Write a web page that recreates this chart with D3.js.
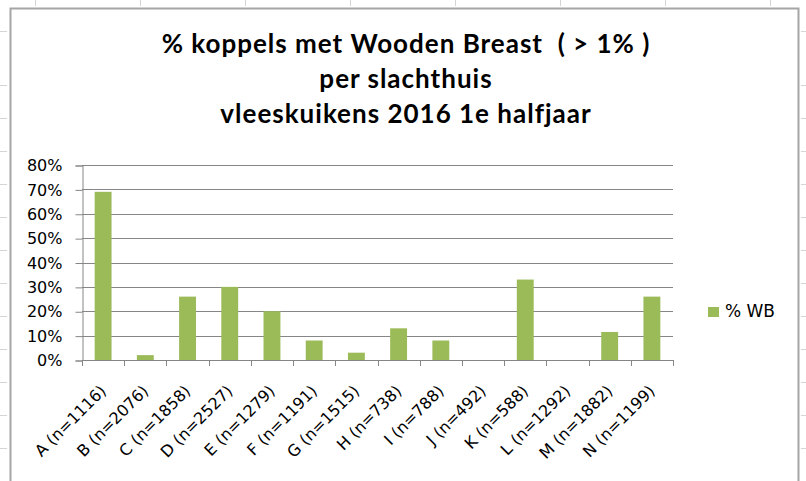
<!DOCTYPE html>
<html>
<head>
<meta charset="utf-8">
<script src="https://cdn.jsdelivr.net/npm/d3@7"></script>
<style>
  body { margin: 0; background: #fff; }
  svg { display: block; }
</style>
</head>
<body>
<div id="chart"></div>
<script>
// data
var categories = ["A (n=1116)", "B (n=2076)", "C (n=1858)", "D (n=2527)", "E (n=1279)",
    "F (n=1191)", "G (n=1515)", "H (n=738)", "I (n=788)", "J (n=492)",
    "K (n=588)", "L (n=1292)", "M (n=1882)", "N (n=1199)"];
var wbValues = [0.69, 0.02, 0.26, 0.30, 0.20, 0.08, 0.03, 0.13, 0.08, 0, 0.33, 0, 0.115, 0.26];
var yTicks = [0, 0.1, 0.2, 0.3, 0.4, 0.5, 0.6, 0.7, 0.8];
var titleLines = ["% koppels met Wooden Breast  ( > 1% )", "per slachthuis", "vleeskuikens 2016 1e halfjaar"];
var seriesName = "% WB";

var W = 806, H = 481;
var green = "#9bbb59", gridGrey = "#868686";
var labelFont = "'DejaVu Sans', sans-serif";

var svg = d3.select("#chart").append("svg")
    .attr("width", W)
    .attr("height", H);

// spreadsheet cells peeking out round the chart object
var sheet = svg.append("g").attr("stroke", "#d4d4d4").attr("stroke-width", 1);
d3.range(0, 13).forEach(function (i) {
    var y = i == 0 ? 31 : 85 + i * 33 - 33;
    sheet.append("line").attr("x1", 0).attr("x2", 7).attr("y1", y + 0.5).attr("y2", y + 0.5);
    sheet.append("line").attr("x1", 801).attr("x2", W).attr("y1", y + 0.5).attr("y2", y + 0.5);
});
d3.range(0, 8).forEach(function (i) {
    var x = 35 + i * 105;
    sheet.append("line").attr("x1", x + 0.5).attr("x2", x + 0.5).attr("y1", 0).attr("y2", 6);
});

// chart object frame
svg.append("rect")
    .attr("x", 10.5).attr("y", 8.5)
    .attr("width", 788).attr("height", H + 20)
    .attr("fill", "#fff")
    .attr("stroke", "#a5a5a5")
    .attr("stroke-width", 2);

// title
var title = svg.append("text")
    .attr("text-anchor", "middle")
    .style("font-family", "Lato, 'Open Sans', sans-serif")
    .style("font-weight", "bold")
    .style("font-size", "26px")
    .style("letter-spacing", "1px")
    .style("white-space", "pre")
    .attr("fill", "#000");
titleLines.forEach(function (t, i) {
    title.append("tspan").attr("x", 406).attr("y", 53 + i * 35).text(t);
});

var margin = {left: 82, right: 133, top: 165, bottom: 121};
var x = d3.scaleBand()
    .domain(categories)
    .range([margin.left, W - margin.right])
    .paddingInner(0.6)
    .paddingOuter(0.3);
var y = d3.scaleLinear()
    .domain([0, 0.8])
    .range([H - margin.bottom, margin.top]);

// gridlines
svg.append("g")
    .selectAll("line")
    .data(yTicks.slice(1))
    .join("line")
    .attr("x1", margin.left).attr("x2", W - margin.right)
    .attr("y1", function (d) { return Math.round(y(d)) + 0.5; })
    .attr("y2", function (d) { return Math.round(y(d)) + 0.5; })
    .attr("stroke", gridGrey)
    .attr("stroke-width", 1);

// bars
svg.append("g")
    .selectAll("rect")
    .data(wbValues)
    .join("rect")
    .attr("x", function (d, i) { return x(categories[i]); })
    .attr("width", x.bandwidth())
    .attr("y", function (d) { return y(d); })
    .attr("height", function (d) { return y(0) - y(d); })
    .attr("fill", green);

// y axis
var yAxis = svg.append("g")
    .attr("transform", "translate(" + (margin.left + 0.5) + ",0.5)")
    .call(d3.axisLeft(y).tickValues(yTicks).tickFormat(d3.format(".0%")).tickSize(7).tickPadding(13));
yAxis.selectAll("line, path").attr("stroke", gridGrey);
yAxis.selectAll("text")
    .style("font-family", labelFont)
    .style("font-size", "16px")
    .attr("fill", "#000");

// x axis, ticks between categories
var bounds = d3.range(categories.length + 1).map(function (i) {
    return margin.left + i * (W - margin.right - margin.left) / categories.length;
});
var xg = svg.append("g");
xg.append("line")
    .attr("x1", margin.left).attr("x2", W - margin.right)
    .attr("y1", y(0) + 0.5).attr("y2", y(0) + 0.5)
    .attr("stroke", gridGrey);
xg.selectAll("line.tick")
    .data(bounds)
    .join("line")
    .attr("class", "tick")
    .attr("x1", function (d) { return Math.round(d) + 0.5; })
    .attr("x2", function (d) { return Math.round(d) + 0.5; })
    .attr("y1", y(0)).attr("y2", y(0) + 6)
    .attr("stroke", gridGrey);
xg.selectAll("text")
    .data(categories)
    .join("text")
    .attr("text-anchor", "end")
    .attr("transform", function (d) {
        var cx = x(d) + x.bandwidth() / 2 + 4;
        return "translate(" + cx + "," + (y(0) + 32) + ") rotate(-45)";
    })
    .style("font-family", labelFont)
    .style("font-size", "16px")
    .attr("fill", "#000")
    .text(function (d) { return d; });

// legend
var legend = svg.append("g").attr("transform", "translate(708,307)");
legend.append("rect").attr("width", 11).attr("height", 10).attr("fill", green);
legend.append("text")
    .attr("x", 17).attr("y", 10)
    .style("font-family", labelFont)
    .style("font-size", "17px")
    .attr("fill", "#000")
    .text(seriesName);
</script>
</body>
</html>
